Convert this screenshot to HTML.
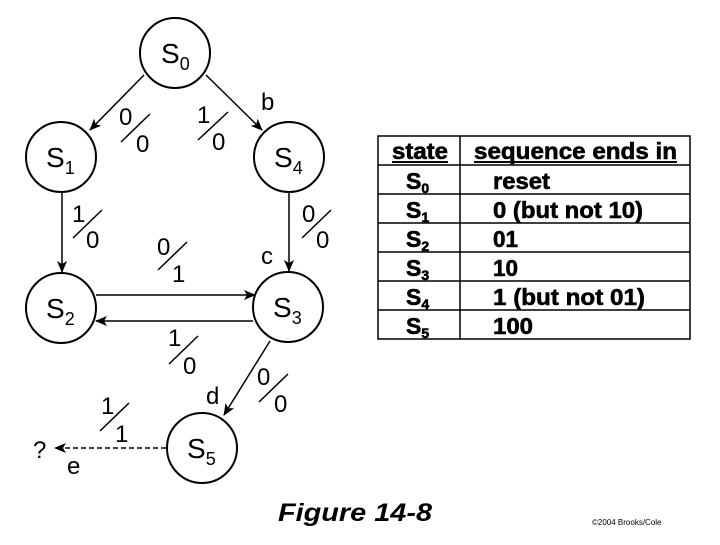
<!DOCTYPE html>
<html><head><meta charset="utf-8"><style>
body{margin:0;background:#fff}
svg text{font-family:"Liberation Sans",Arial,sans-serif}
</style></head><body>
<svg width="720" height="540" viewBox="0 0 720 540" xmlns="http://www.w3.org/2000/svg">
<defs><marker id="a" markerWidth="12" markerHeight="10" refX="11" refY="5" orient="auto" markerUnits="userSpaceOnUse"><path d="M0,0 L12,5 L0,10 L3,5 Z" fill="#000"/></marker></defs>
<g fill="none" stroke="#000" stroke-width="2">
<circle cx="175" cy="53" r="35"/><circle cx="61" cy="157" r="35"/><circle cx="289" cy="157" r="35"/>
<circle cx="61" cy="308" r="35"/><circle cx="288" cy="307" r="35"/><circle cx="202" cy="448" r="35"/>
</g>
<g stroke="#000" stroke-width="1.5" fill="none">
<line x1="144" y1="75" x2="90" y2="130" marker-end="url(#a)"/>
<line x1="206" y1="75" x2="262" y2="130" marker-end="url(#a)"/>
<line x1="62" y1="193" x2="62" y2="272" marker-end="url(#a)"/>
<line x1="289" y1="193" x2="289" y2="271" marker-end="url(#a)"/>
<line x1="96" y1="295" x2="255" y2="295" marker-end="url(#a)"/>
<line x1="253" y1="321" x2="96" y2="321" marker-end="url(#a)"/>
<line x1="270" y1="341" x2="224" y2="415" marker-end="url(#a)"/>
<line x1="166" y1="448" x2="55" y2="448" stroke-dasharray="5,3" marker-end="url(#a)"/>
<line x1="121" y1="142" x2="150" y2="114"/>
<line x1="198" y1="140" x2="228" y2="112"/>
<line x1="73" y1="238" x2="102" y2="210"/>
<line x1="302" y1="238" x2="331" y2="210"/>
<line x1="158" y1="270" x2="187" y2="242"/>
<line x1="169" y1="364" x2="198" y2="336"/>
<line x1="259" y1="402" x2="288" y2="374"/>
<line x1="100" y1="431" x2="129" y2="403"/>
</g>
<g font-size="24" fill="#000">
<text x="119" y="125">0</text><text x="136" y="152">0</text>
<text x="197" y="123">1</text><text x="212" y="150">0</text>
<text x="72" y="222">1</text><text x="86" y="248">0</text>
<text x="302" y="222">0</text><text x="316" y="248">0</text>
<text x="157" y="255">0</text><text x="172" y="282">1</text>
<text x="168" y="346">1</text><text x="183" y="374">0</text>
<text x="257" y="385">0</text><text x="274" y="412">0</text>
<text x="101" y="414">1</text><text x="115" y="442">1</text>
<text x="261" y="110">b</text><text x="261" y="264">c</text>
<text x="206" y="404">d</text><text x="67" y="474">e</text>
<text x="33" y="458">?</text>
</g>
<g font-size="28" fill="#000">
<text x="161" y="63">S<tspan font-size="18" dy="7">0</tspan></text>
<text x="46" y="167">S<tspan font-size="18" dy="7">1</tspan></text>
<text x="274" y="167">S<tspan font-size="18" dy="7">4</tspan></text>
<text x="46" y="318">S<tspan font-size="18" dy="7">2</tspan></text>
<text x="273" y="317">S<tspan font-size="18" dy="7">3</tspan></text>
<text x="187" y="458">S<tspan font-size="18" dy="7">5</tspan></text>
</g>
<g stroke="#000" stroke-width="1.5" fill="none">
<rect x="378" y="136" width="312" height="203"/>
<line x1="460" y1="136" x2="460" y2="339"/>
<line x1="378" y1="165" x2="690" y2="165"/><line x1="378" y1="194" x2="690" y2="194"/>
<line x1="378" y1="223" x2="690" y2="223"/><line x1="378" y1="252" x2="690" y2="252"/>
<line x1="378" y1="281" x2="690" y2="281"/><line x1="378" y1="310" x2="690" y2="310"/>
<line x1="392" y1="162" x2="448" y2="162" stroke-width="2"/>
<line x1="474" y1="162" x2="677" y2="162" stroke-width="2"/>
</g>
<g font-size="23" font-weight="bold" fill="#000" stroke="#000" stroke-width="0.6">
<text x="392" y="159" textLength="56" lengthAdjust="spacingAndGlyphs">state</text>
<text x="474" y="159" textLength="203" lengthAdjust="spacingAndGlyphs">sequence ends in</text>
<text x="406" y="189">S<tspan font-size="14" dy="4">0</tspan></text>
<text x="406" y="218">S<tspan font-size="14" dy="4">1</tspan></text>
<text x="406" y="247">S<tspan font-size="14" dy="4">2</tspan></text>
<text x="406" y="276">S<tspan font-size="14" dy="4">3</tspan></text>
<text x="406" y="305">S<tspan font-size="14" dy="4">4</tspan></text>
<text x="406" y="334">S<tspan font-size="14" dy="4">5</tspan></text>
<text x="493" y="189" textLength="57" lengthAdjust="spacingAndGlyphs">reset</text>
<text x="493" y="218" textLength="150" lengthAdjust="spacingAndGlyphs">0 (but not 10)</text>
<text x="493" y="247" textLength="25" lengthAdjust="spacingAndGlyphs">01</text>
<text x="493" y="276" textLength="25" lengthAdjust="spacingAndGlyphs">10</text>
<text x="493" y="305" textLength="152" lengthAdjust="spacingAndGlyphs">1 (but not 01)</text>
<text x="493" y="334" textLength="40" lengthAdjust="spacingAndGlyphs">100</text>
</g>
<text x="278" y="521" font-size="25" font-weight="bold" font-style="italic" fill="#000" textLength="154" lengthAdjust="spacingAndGlyphs">Figure 14-8</text>
<text x="592" y="525" font-size="8" fill="#000">©2004 Brooks/Cole</text>
</svg>
</body></html>
